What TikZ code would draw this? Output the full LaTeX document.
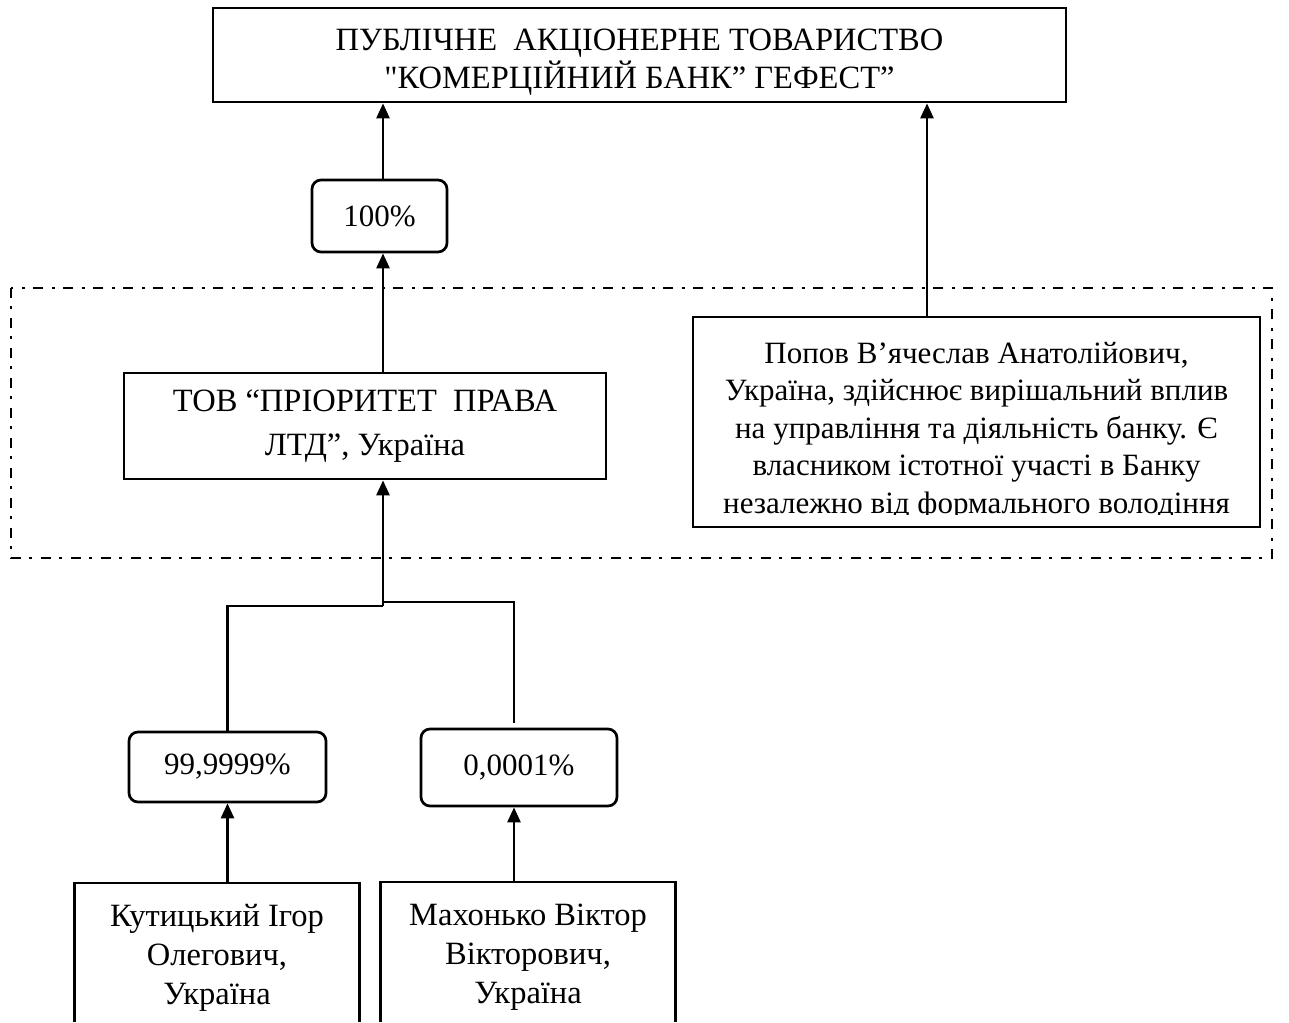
\documentclass[tikz,border=0pt]{standalone}
\usepackage{fontspec}
\setmainfont{Liberation Serif}[Ligatures=TeXOff]
\usetikzlibrary{arrows.meta}
\begin{document}
\begin{tikzpicture}[x=1pt,y=-1pt,
  txt/.style={align=center, inner sep=0pt, font=\fontsize{31}{37.5}\selectfont},
  big/.style={font=\fontsize{32.5}{38.5}\selectfont},
  box/.style={txt, draw, line width=2.7pt},
  pct/.style={box, rounded corners=9pt},
  ln/.style={line width=2.6pt},
  arr/.style={line width=2.6pt, -{Triangle[length=15pt,width=13pt]}},
  dashdot/.style={line width=2.6pt, dash pattern=on 10pt off 8pt on 3pt off 9pt}]
\useasboundingbox (0,0) rectangle (1289,1022);
% group frame
\draw[dashdot] (11,288) rectangle (1272,558);
% nodes
\node[box, minimum width=853pt, minimum height=94pt] (bank) at (639.5,55) {};
\node[txt, big] (banktext) at (639.5,62)
  {ПУБЛІЧНЕ\ \ АКЦІОНЕРНЕ ТОВАРИСТВО\\ "КОМЕРЦІЙНИЙ БАНК” ГЕФЕСТ”};
\node[pct, minimum width=135pt, minimum height=72pt] (p100) at (379.5,216) {100\%};
\node[box, minimum width=482pt, minimum height=106pt, font=\fontsize{32.5}{44}\selectfont] (tov) at (365,426)
  {ТОВ “ПРІОРИТЕТ\ \ ПРАВА\\ ЛТД”, Україна};
\node[box, minimum width=567pt, minimum height=210pt] (popov) at (976.5,422) {};
\begin{scope}
  \clip (693,317) rectangle (1260,514);
  \node[txt] (popovtext) at (976.5,431)
    {Попов В’ячеслав Анатолійович,\\ Україна, здійснює вирішальний вплив\\ на управління та діяльність банку. Є\\ власником істотної участі в Банку\\ незалежно від формального володіння};
\end{scope}
\node[pct, minimum width=197pt, minimum height=70pt] (p1) at (227.5,767) {99,9999\%};
\node[pct, minimum width=196pt, minimum height=77pt] (p2) at (519,767.5) {0,0001\%};
\node[txt, font=\fontsize{32.5}{39}\selectfont, minimum width=284pt, minimum height=150pt, anchor=north] (kut) at (217,883)
  {Кутицький Ігор\\ Олегович,\\ Україна};
\node[txt, font=\fontsize{32.5}{39}\selectfont, minimum width=294pt, minimum height=150pt, anchor=north] (mach) at (528,882)
  {Махонько Віктор\\ Вікторович,\\ Україна};
\draw[ln, line width=2.7pt] (kut.north west) ++(0,139) -- (kut.north west) -- (kut.north east) -- ++(0,139);
\draw[ln, line width=2.7pt] (mach.north west) ++(0,140) -- (mach.north west) -- (mach.north east) -- ++(0,140);
% helper coordinates
\coordinate (c1) at (383,0);
\coordinate (c2) at (927,0);
\coordinate (jl) at (383,606);
\coordinate (jr) at (383,602);
\coordinate (rb) at (514,723);
% connectors
\draw[arr] (p100.north -| c1) -- (bank.south -| c1);
\draw[arr] (tov.north -| c1) -- (p100.south -| c1);
\draw[arr] (popov.north -| c2) -- (bank.south -| c2);
\draw[ln] (p1.north) |- (jl);
\draw[ln] (rb) |- (jr);
\draw[arr] (jl) -- (tov.south -| jl);
\draw[arr] (kut.north -| p1.south) -- (p1.south);
\draw[arr] (mach.north -| rb) -- (p2.south -| rb);
\end{tikzpicture}
\end{document}
